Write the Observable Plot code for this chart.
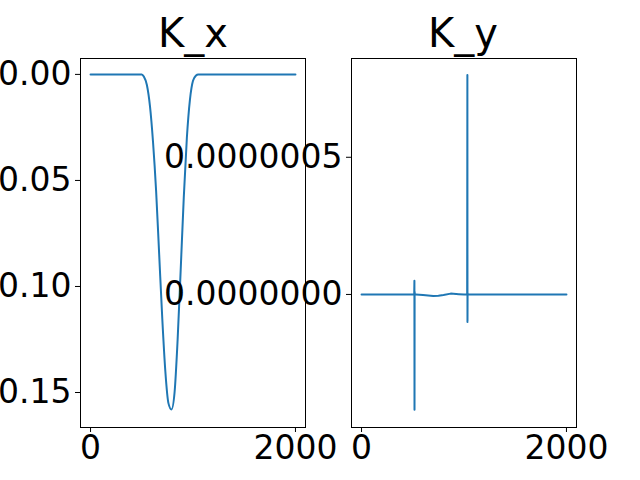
<!DOCTYPE html>
<html><head><meta charset="utf-8">
<script src="https://cdn.jsdelivr.net/npm/d3@7"></script>
<script src="https://cdn.jsdelivr.net/npm/@observablehq/plot@0.6"></script>
<style>
body{margin:0;background:#fff;font-family:"DejaVu Sans",sans-serif}
#wrap{position:relative;width:640px;height:480px;overflow:hidden}
#wrap svg{position:absolute;left:0;top:0;overflow:visible}
.t{position:absolute;top:10px;font-size:40px;transform:translateX(-50%)}
</style></head><body>
<div id="wrap">
<div class="t" style="left:193px">K_x</div>
<div class="t" style="left:463px">K_y</div>
</div>
<script>
// K_x series
const kxX = [0,500,520,550,580,610,640,670,700,730,760,790,820,850,880,910,940,970,1000,1030,1050,2000];
const kxY = [0,0,-0.001,-0.005,-0.015,-0.032,-0.055,-0.085,-0.115,-0.140,-0.155,-0.158,-0.150,-0.125,-0.092,-0.058,-0.030,-0.012,-0.003,-0.0005,0,0];
// K_y series
const kyX = [0,514,516,517,518,520,530,600,650,700,750,800,870,950,1000,1031,1033,1034,1035,1037,1045,2000];
const kyY = [0,0,5e-8,-4.2e-7,1e-8,0,0,-2e-9,-4e-9,-6e-9,-5e-9,-2e-9,3e-9,1e-9,0,0,8e-7,-1e-7,5e-9,0,0,0];
const xTicks = [0, 2000];
const kxTicks = [0, -0.05, -0.10, -0.15];
const kyTicks = [0, 5e-7];

const blue = "#1f77b4";
const common = {width: 640, height: 480, marginTop: 58, marginBottom: 53,
  style: {fontSize: "33px", fontFamily: "DejaVu Sans", color: "#000", background: "none"}};

function panel(xs, ys, yDomain, yTicks, fmt, ml, mr, curve) {
  const data = xs.map((x, i) => ({x, y: ys[i]}));
  return Plot.plot({
    ...common, marginLeft: ml, marginRight: mr,
    x: {domain: [-98, 2098]},
    y: {domain: yDomain},
    marks: [
      Plot.frame({stroke: "#000"}),
      Plot.axisX({ticks: xTicks, tickFormat: d => String(d), tickSize: 5, tickPadding: 3, label: null}),
      Plot.axisY({ticks: yTicks, tickFormat: fmt, tickSize: 5, tickPadding: 4, label: null}),
      Plot.line(data, {x: "x", y: "y", stroke: blue, strokeWidth: 2, curve})
    ]
  });
}

const wrap = document.getElementById("wrap");
wrap.append(panel(kxX, kxY, [-0.1665, 0.0075], kxTicks, d => (d <= 0 ? "\u2212" : "") + Math.abs(d).toFixed(2), 80, 335, "monotone-x"));
wrap.append(panel(kyX, kyY, [-4.85e-7, 8.6e-7], kyTicks, d => d.toFixed(7), 351, 64, "linear"));
</script>
</body></html>
